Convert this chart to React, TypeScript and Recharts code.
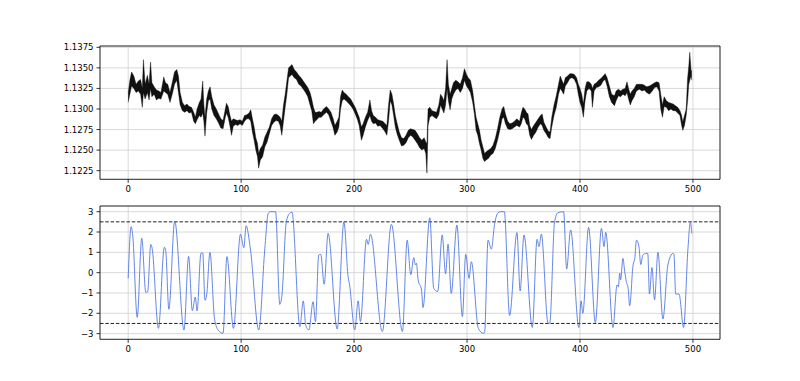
import React from 'react';
import { ComposedChart, Area, Line, XAxis, YAxis, CartesianGrid, ReferenceLine } from 'recharts';

// price bars: bar index, low, high
const priceX = [
  0, 1.5, 3, 5, 7, 9, 11, 12.5, 13.5, 15,
  17, 18.5, 19.8, 21, 23, 25, 27, 29, 31.5, 33,
  35, 37, 39, 41, 43, 44.5, 46, 48, 50, 52,
  54, 56, 58, 59.5, 61, 63, 64.5, 66, 67, 68,
  69.5, 71, 72.5, 74, 76, 78, 80, 82, 84, 86,
  87, 88.5, 90, 91.5, 93, 95, 97, 99, 101, 103,
  105, 107, 108.5, 110, 111.5, 113, 114.5, 115.5, 117, 119,
  121, 123, 125, 127, 129, 131, 133, 134.5, 136, 137.5,
  139, 140.5, 142, 143.5, 145, 147, 149, 151, 153, 155,
  157, 159, 161, 162.5, 164, 165.5, 167, 169, 171, 173,
  175.5, 177.5, 179.5, 181.5, 183, 185, 186.5, 188, 189.5, 191,
  193, 195, 197, 199, 201, 203, 204.5, 206.5, 208, 210,
  212, 214, 215.5, 217, 219, 221, 223, 225.5, 227.5, 229,
  230.5, 232, 233.5, 235, 236.5, 238, 240, 242, 244, 246,
  248, 250, 252, 254, 256, 258, 260, 262, 263.5, 264.5,
  265.5, 267, 269, 271, 273, 275, 276.5, 278, 279.5, 281,
  282.3, 283.5, 285, 286.5, 288, 290, 292, 294, 296, 297.7,
  299.5, 301, 303, 305, 306.5, 308, 309.5, 311, 312.5, 314,
  315.5, 317, 319, 321, 323, 325, 327, 329, 331, 332.5,
  334, 336, 338, 340, 342, 344, 346.5, 348, 349.5, 351,
  352.5, 354, 355.5, 357, 359, 361, 363, 365, 366.5, 368,
  370, 372, 373.5, 375, 377, 379, 381, 382.5, 384, 385.5,
  387, 389, 391, 393, 395, 397, 398.5, 400, 401.5, 403,
  404.5, 406, 408, 410, 411, 412.5, 414.5, 416.5, 418.5, 420.5,
  422.3, 424, 426, 428, 430.5, 432, 434, 436, 438, 440,
  441.6, 443, 444.5, 446, 448, 450, 452.5, 455, 457, 459,
  461.5, 464, 466, 468, 470, 471.5, 473, 474.5, 476.5, 478.5,
  480.5, 482.5, 484.5, 486.5, 488.5, 490, 491, 492.5, 494, 495.3,
  496.3, 497.2, 498.3, 499,
];
const priceLow = [
  1.1308, 1.1318, 1.1328, 1.1325, 1.1320, 1.1322, 1.1318, 1.1302, 1.1320, 1.1312,
  1.1320, 1.1311, 1.1325, 1.1315, 1.1318, 1.1311, 1.1313, 1.1312, 1.1322, 1.1320,
  1.1318, 1.1308, 1.1318, 1.1330, 1.1335, 1.1320, 1.1305, 1.1298, 1.1296, 1.1298,
  1.1295, 1.1296, 1.1285, 1.1282, 1.1287, 1.1292, 1.1290, 1.1295, 1.1285, 1.1267,
  1.1295, 1.1310, 1.1312, 1.1300, 1.1292, 1.1288, 1.1283, 1.1277, 1.1276, 1.1290,
  1.1295, 1.1290, 1.1280, 1.1268, 1.1279, 1.1281, 1.1280, 1.1282, 1.1280, 1.1285,
  1.1288, 1.1288, 1.1285, 1.1272, 1.1262, 1.1250, 1.1242, 1.1228, 1.1238, 1.1242,
  1.1254, 1.1260, 1.1270, 1.1280, 1.1284, 1.1286, 1.1285, 1.1280, 1.1268, 1.1285,
  1.1302, 1.1318, 1.1338, 1.1340, 1.1342, 1.1338, 1.1336, 1.1330, 1.1328, 1.1324,
  1.1320, 1.1315, 1.1305, 1.1298, 1.1282, 1.1285, 1.1287, 1.1290, 1.1290, 1.1293,
  1.1296, 1.1293, 1.1285, 1.1277, 1.1268, 1.1272, 1.1278, 1.1300, 1.1310, 1.1312,
  1.1310, 1.1307, 1.1304, 1.1300, 1.1294, 1.1287, 1.1280, 1.1262, 1.1268, 1.1278,
  1.1286, 1.1292, 1.1285, 1.1282, 1.1283, 1.1279, 1.1280, 1.1276, 1.1272, 1.1268,
  1.1285, 1.1310, 1.1305, 1.1292, 1.1278, 1.1270, 1.1262, 1.1255, 1.1256, 1.1259,
  1.1265, 1.1268, 1.1266, 1.1262, 1.1258, 1.1253, 1.1250, 1.1252, 1.1246, 1.1222,
  1.1280, 1.1290, 1.1292, 1.1290, 1.1288, 1.1293, 1.1305, 1.1300, 1.1295, 1.1305,
  1.1325, 1.1310, 1.1299, 1.1312, 1.1318, 1.1323, 1.1325, 1.1320, 1.1325, 1.1335,
  1.1328, 1.1325, 1.1320, 1.1308, 1.1294, 1.1274, 1.1268, 1.1258, 1.1250, 1.1240,
  1.1236, 1.1238, 1.1240, 1.1244, 1.1246, 1.1252, 1.1262, 1.1274, 1.1288, 1.1290,
  1.1282, 1.1276, 1.1275, 1.1276, 1.1278, 1.1280, 1.1278, 1.1282, 1.1290, 1.1288,
  1.1282, 1.1280, 1.1268, 1.1263, 1.1268, 1.1272, 1.1278, 1.1282, 1.1280, 1.1274,
  1.1270, 1.1265, 1.1264, 1.1278, 1.1292, 1.1302, 1.1318, 1.1325, 1.1322, 1.1318,
  1.1328, 1.1332, 1.1337, 1.1338, 1.1336, 1.1330, 1.1318, 1.1308, 1.1302, 1.1290,
  1.1310, 1.1322, 1.1325, 1.1322, 1.1302, 1.1322, 1.1326, 1.1327, 1.1329, 1.1334,
  1.1336, 1.1328, 1.1315, 1.1308, 1.1304, 1.1310, 1.1316, 1.1315, 1.1318, 1.1316,
  1.1320, 1.1312, 1.1305, 1.1310, 1.1315, 1.1322, 1.1324, 1.1322, 1.1323, 1.1320,
  1.1318, 1.1322, 1.1326, 1.1327, 1.1322, 1.1300, 1.1290, 1.1303, 1.1302, 1.1298,
  1.1300, 1.1298, 1.1298, 1.1295, 1.1292, 1.1280, 1.1274, 1.1280, 1.1292, 1.1310,
  1.1330, 1.1335, 1.1340, 1.1335,
];
const priceHigh = [
  1.1319, 1.1335, 1.1345, 1.1340, 1.1330, 1.1334, 1.1336, 1.1325, 1.1360, 1.1330,
  1.1341, 1.1330, 1.1357, 1.1332, 1.1327, 1.1323, 1.1322, 1.1320, 1.1339, 1.1332,
  1.1330, 1.1320, 1.1332, 1.1345, 1.1348, 1.1340, 1.1320, 1.1308, 1.1304, 1.1306,
  1.1303, 1.1302, 1.1296, 1.1290, 1.1300, 1.1308, 1.1312, 1.1334, 1.1305, 1.1290,
  1.1312, 1.1322, 1.1327, 1.1315, 1.1305, 1.1300, 1.1294, 1.1288, 1.1286, 1.1300,
  1.1307, 1.1303, 1.1293, 1.1285, 1.1288, 1.1287, 1.1286, 1.1287, 1.1285, 1.1292,
  1.1293, 1.1295, 1.1299, 1.1288, 1.1278, 1.1265, 1.1258, 1.1246, 1.1252, 1.1256,
  1.1266, 1.1272, 1.1278, 1.1288, 1.1293, 1.1294, 1.1292, 1.1290, 1.1285, 1.1305,
  1.1318, 1.1334, 1.1350, 1.1352, 1.1354, 1.1348, 1.1345, 1.1341, 1.1338, 1.1334,
  1.1330, 1.1326, 1.1320, 1.1312, 1.1302, 1.1296, 1.1296, 1.1297, 1.1296, 1.1300,
  1.1303, 1.1300, 1.1296, 1.1288, 1.1280, 1.1285, 1.1290, 1.1315, 1.1323, 1.1320,
  1.1318, 1.1315, 1.1312, 1.1307, 1.1302, 1.1295, 1.1290, 1.1278, 1.1282, 1.1290,
  1.1296, 1.1311, 1.1298, 1.1292, 1.1290, 1.1287, 1.1286, 1.1285, 1.1282, 1.1280,
  1.1305, 1.1323, 1.1318, 1.1306, 1.1292, 1.1283, 1.1272, 1.1265, 1.1264, 1.1268,
  1.1274, 1.1276, 1.1275, 1.1274, 1.1270, 1.1265, 1.1262, 1.1265, 1.1260, 1.1258,
  1.1300, 1.1302, 1.1298, 1.1297, 1.1296, 1.1305, 1.1318, 1.1315, 1.1310, 1.1325,
  1.1360, 1.1330, 1.1318, 1.1325, 1.1332, 1.1335, 1.1333, 1.1330, 1.1338, 1.1349,
  1.1342, 1.1338, 1.1335, 1.1322, 1.1305, 1.1290, 1.1282, 1.1274, 1.1262, 1.1254,
  1.1246, 1.1248, 1.1250, 1.1252, 1.1256, 1.1264, 1.1276, 1.1290, 1.1300, 1.1303,
  1.1294, 1.1285, 1.1282, 1.1283, 1.1285, 1.1288, 1.1285, 1.1295, 1.1302, 1.1300,
  1.1296, 1.1294, 1.1280, 1.1275, 1.1280, 1.1284, 1.1288, 1.1292, 1.1294, 1.1284,
  1.1278, 1.1273, 1.1272, 1.1290, 1.1305, 1.1316, 1.1330, 1.1340, 1.1335, 1.1330,
  1.1338, 1.1340, 1.1343, 1.1343, 1.1342, 1.1338, 1.1330, 1.1325, 1.1318, 1.1306,
  1.1325, 1.1333, 1.1333, 1.1330, 1.1325, 1.1330, 1.1332, 1.1335, 1.1337, 1.1340,
  1.1343, 1.1338, 1.1328, 1.1318, 1.1316, 1.1322, 1.1324, 1.1322, 1.1324, 1.1325,
  1.1333, 1.1325, 1.1318, 1.1322, 1.1325, 1.1330, 1.1330, 1.1330, 1.1329, 1.1327,
  1.1328, 1.1330, 1.1332, 1.1333, 1.1332, 1.1318, 1.1305, 1.1315, 1.1310, 1.1308,
  1.1307, 1.1306, 1.1304, 1.1302, 1.1298, 1.1292, 1.1284, 1.1292, 1.1300, 1.1338,
  1.1352, 1.1369, 1.1348, 1.1345,
];

// oscillator in the lower panel: turning points
const oscX = [
  0, 2.6, 4, 8, 12, 15.6, 17.2, 20, 21.2, 26.8,
  32, 33.2, 36, 41.2, 49.4, 53.5, 56.8, 59.4, 61, 64.4,
  66, 68, 69.5, 72.4, 76.5, 80, 84, 87.4, 93.2, 99.4,
  102.4, 104.4, 108.2, 115.6, 121, 124, 126, 130.5, 134.2, 136,
  140, 143, 145, 152, 155, 157.2, 160, 163.7, 165.8, 168.7,
  170.5, 173.5, 177, 185, 191, 194.7, 196, 200.6, 203.6, 205.6,
  211, 212.5, 214.5, 225, 233, 242.8, 247, 250.2, 252.8, 254.3,
  255.2, 256.7, 259.7, 261, 267, 270.5, 274, 278, 281, 283.2,
  286, 291, 295.9, 298.8, 301.8, 303.8, 310, 314.2, 315.5, 318.6,
  321.5, 324.5, 327.5, 330, 333, 337.7, 344.2, 347, 350.4, 357.8,
  362, 363.7, 365.8, 371.7, 373.2, 377.5, 380.5, 385.5, 388.2, 391.7,
  399, 401, 402.5, 407.6, 413.6, 419, 421.3, 422.8, 429.2, 432.8,
  434, 435.1, 436, 438, 439.6, 441, 442.6, 444, 447, 448.5,
  450, 452.2, 453.8, 455.7, 458.7, 460, 461.5, 463.7, 466, 469,
  473.4, 477.8, 482.3, 483.2, 484.7, 487.7, 491.7, 495.6, 497.7, 499,
];
const oscY = [
  -0.28, 2.26, 1.85, -2.2, 1.69, -0.97, -0.95, 1.39, 1.2, -2.74,
  1.25, 1.1, -1.8, 2.54, -2.82, 0.8, -1.87, -1.2, -1.88, 0.95,
  0.97, -1.36, -1.1, 1.0, -2.3, -2.85, -2.98, 0.79, -2.74, 1.89,
  1.23, 2.31, 1.16, -2.82, 1.2, 2.92, 3.0, 3.0, -1.56, -1.18,
  2.5, 2.92, 2.98, -2.66, -1.39, -2.6, -2.82, -1.43, -2.41, 0.87,
  0.9, -0.57, 1.93, -2.77, 2.5, -0.2, -0.6, -2.82, -1.39, -2.41,
  1.64, 1.39, 1.89, -2.9, 2.38, -2.9, 1.6, -0.1, 0.74, 0.38,
  0.46, -0.36, -0.85, -1.72, 2.7, -0.77, -0.93, 1.86, -0.06, 1.4,
  -1.02, 2.34, -2.16, 0.9, -0.28, 0.54, -2.74, -2.98, -2.95, 1.6,
  1.16, 2.43, 2.95, 3.0, 3.0, -2.11, 1.97, -0.9, 1.85, -2.7,
  1.64, 1.28, 1.89, -2.49, -2.49, 2.5, 2.95, 3.0, 0.18, 2.1,
  -2.7, -1.39, -2.0, 2.23, -2.46, 2.18, 1.28, 1.98, -2.7, -0.6,
  -0.7, -0.03, -0.35, 0.7, 0.05, -0.44, -0.77, -1.62, 0.38, 0.7,
  1.6, 1.28, 0.4, 0.87, 0.95, 0.95, -1.05, 0.25, -1.34, 1.0,
  -2.28, 0.38, 0.95, 0.9, -1.05, -1.05, -2.7, 1.2, 2.48, 1.93,
];

const xTicks = [0, 100, 200, 300, 400, 500];
const priceTicks = [1.1225, 1.125, 1.1275, 1.13, 1.1325, 1.135, 1.1375];
const oscTicks = [-3, -2, -1, 0, 1, 2, 3];
const oscBands = [2.5, -2.5];

const X_DOMAIN = [-24.95, 523.95];
const PRICE_DOMAIN = [1.12145, 1.13766];
const OSC_DOMAIN = [-3.28, 3.28];

const priceData = priceX.map((x, i) => ({ x, range: [priceLow[i], priceHigh[i]] }));
const oscData = oscX.map((x, i) => ({ x, osc: oscY[i] }));

const FONT = 'DejaVu Sans, sans-serif';
const tickStyle = { fontSize: 8.5, fill: '#000', fontFamily: FONT };
const GRID = '#cfcfcf';

const minus = (v: number) => String(v).replace('-', '\u2212');

export default function App() {
  return (
    <div style={{ position: 'absolute', left: 0, top: 0, width: 800, height: 381, background: '#fff' }}>
      <div style={{ position: 'absolute', left: 0, top: 0 }}>
        <ComposedChart width={800} height={200} data={priceData} margin={{ top: 46, right: 80, bottom: 0.7, left: 0 }}>
          <CartesianGrid stroke={GRID} strokeWidth={0.8} />
          <XAxis
            type="number"
            dataKey="x"
            domain={X_DOMAIN}
            ticks={xTicks}
            interval={0}
            allowDataOverflow
            height={20}
            tickSize={3.5}
            tickMargin={3}
            tick={tickStyle}
            stroke="#000"
            strokeWidth={0.8}
          />
          <YAxis
            type="number"
            domain={PRICE_DOMAIN}
            ticks={priceTicks}
            interval={0}
            allowDataOverflow
            width={100}
            tickSize={3.5}
            tickMargin={3}
            tick={tickStyle}
            tickFormatter={(v: number) => v.toFixed(4)}
            stroke="#000"
            strokeWidth={0.8}
          />
          <ReferenceLine x={X_DOMAIN[1]} stroke="#000" strokeWidth={0.8} />
          <ReferenceLine y={PRICE_DOMAIN[1]} stroke="#000" strokeWidth={0.8} />
          <Area
            type="linear"
            dataKey="range"
            stroke="#000"
            strokeWidth={0.4}
            fill="#111"
            fillOpacity={1}
            dot={false}
            activeDot={false}
            isAnimationActive={false}
          />
        </ComposedChart>
      </div>
      <div style={{ position: 'absolute', left: 0, top: 200 }}>
        <ComposedChart width={800} height={181} data={oscData} margin={{ top: 6, right: 80, bottom: 21.7, left: 0 }}>
          <CartesianGrid stroke={GRID} strokeWidth={0.8} />
          <XAxis
            type="number"
            dataKey="x"
            domain={X_DOMAIN}
            ticks={xTicks}
            interval={0}
            allowDataOverflow
            height={20}
            tickSize={3.5}
            tickMargin={3}
            tick={tickStyle}
            stroke="#000"
            strokeWidth={0.8}
          />
          <YAxis
            type="number"
            domain={OSC_DOMAIN}
            ticks={oscTicks}
            interval={0}
            allowDataOverflow
            width={100}
            tickSize={3.5}
            tickMargin={3}
            tick={tickStyle}
            tickFormatter={minus}
            stroke="#000"
            strokeWidth={0.8}
          />
          <ReferenceLine x={X_DOMAIN[1]} stroke="#000" strokeWidth={0.8} />
          <ReferenceLine y={OSC_DOMAIN[1]} stroke="#000" strokeWidth={0.8} />
          {oscBands.map((b) => (
            <ReferenceLine key={b} y={b} stroke="#222" strokeWidth={1} strokeDasharray="3.5 1.8" />
          ))}
          <Line
            type="monotone"
            dataKey="osc"
            stroke="#4a72e0"
            strokeWidth={1}
            strokeOpacity={0.85}
            dot={false}
            activeDot={false}
            isAnimationActive={false}
          />
        </ComposedChart>
      </div>
    </div>
  );
}
